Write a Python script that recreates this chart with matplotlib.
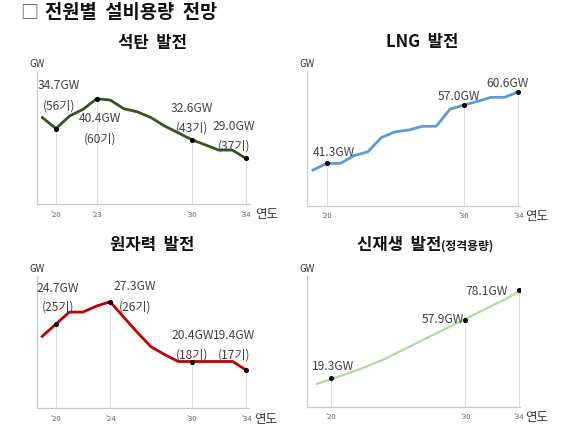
import numpy as np
import matplotlib
matplotlib.use("Agg")
import matplotlib.pyplot as plt

plt.rcParams['font.family'] = ['Noto Sans CJK KR', 'DejaVu Sans']

years = list(range(2019, 2035))

# 석탄 발전 (GW)
coal = [36.8, 34.7, 37.1, 38.4, 40.4, 40.15, 38.5, 37.9, 36.8, 35.2, 33.9, 32.6, 31.6, 30.6, 30.6, 29.0]
coal_marks = [2020, 2023, 2030, 2034]
coal_gw = ["34.7GW", "40.4GW", "32.6GW", "29.0GW"]
coal_units = ["(56기)", "(60기)", "(43기)", "(37기)"]
coal_ticks = ["'20", "'23", "'30", "'34"]

# LNG 발전 (GW)
lng = [39.5, 41.3, 41.3, 43.4, 44.4, 48.3, 49.8, 50.3, 51.3, 51.3, 55.9, 57.0, 58.0, 59.1, 59.1, 60.6]
lng_marks = [2020, 2030, 2034]
lng_gw = ["41.3GW", "57.0GW", "60.6GW"]
lng_ticks = ["'20", "'30", "'34"]

# 원자력 발전 (GW)
nuke = [23.3, 24.7, 26.1, 26.1, 26.8, 27.3, 25.5, 23.75, 22.1, 21.2, 20.4, 20.4, 20.4, 20.4, 20.4, 19.4]
nuke_marks = [2020, 2024, 2030, 2034]
nuke_gw = ["24.7GW", "27.3GW", "20.4GW", "19.4GW"]
nuke_units = ["(25기)", "(26기)", "(18기)", "(17기)"]
nuke_ticks = ["'20", "'24", "'30", "'34"]

# 신재생 발전 (정격용량, GW)
renew = [15.5, 18.4, 21.5, 24.6, 28.2, 31.9, 36.4, 40.8, 45.3, 49.7, 54.1, 58.6, 63.0, 67.5, 71.9, 76.8]
renew_marks = [2020, 2030, 2034]
renew_vals = [19.3, 57.9, 78.1]
renew_gw = ["19.3GW", "57.9GW", "78.1GW"]
renew_ticks = ["'20", "'30", "'34"]

W, H = 570, 435
fig = plt.figure(figsize=(W / 100, H / 100), dpi=100)


def px_axes(x0, x1, ytop, ybot):
    return fig.add_axes([x0 / W, 1 - ybot / H, (x1 - x0) / W, (ybot - ytop) / H])


def base(ax, xlim, ylim, marks, ticks, color, xs, ys, mark_vals, lw=2.0):
    ax.set_xlim(*xlim)
    ax.set_ylim(*ylim)
    for s in ["top", "right"]:
        ax.spines[s].set_visible(False)
    for s in ["left", "bottom"]:
        ax.spines[s].set_color("#c8c8c8")
        ax.spines[s].set_linewidth(0.9)
    ax.set_yticks([])
    ax.set_xticks(marks, ticks)
    ax.tick_params(axis="x", length=0, pad=4, labelsize=5.5, labelcolor="#666666")
    ax.vlines(marks, ylim[0], mark_vals, color="#dcdcdc", lw=0.8, zorder=1)
    ax.plot(xs, ys, color=color, lw=lw, zorder=2, solid_joinstyle="round")
    ax.scatter(marks, mark_vals, s=7, color="black", zorder=3)
    ax.text(0, 1.02, "GW", transform=ax.transAxes, ha="center", va="bottom",
            fontsize=7, color="#333333")
    ax.annotate("연도", xy=(1, 0), xycoords="axes fraction", xytext=(4, -7),
                textcoords="offset points", ha="left", va="center",
                fontsize=9, color="#333333")


def title(x, y, text, size=12, ha="center"):
    fig.text(x / W, 1 - y / H, text, fontsize=size, fontweight="bold",
             ha=ha, va="center", color="#111111")


def label(ax, x, y, text, dx, dy):
    ax.annotate(text, xy=(x, y), xytext=(dx * 0.72, dy * 0.72),
                textcoords="offset points", ha="center", va="center",
                fontsize=8.7, color="#404040")


fig.text(20 / W, 1 - 12 / H, "□", fontsize=13, ha="left", va="center", color="#444444")
title(45, 12, "전원별  설비용량  전망", size=13.5, ha="left")

# 석탄
ax1 = px_axes(37, 250, 72, 205)
coal_pts = [coal[years.index(y)] for y in coal_marks]
base(ax1, (2018.6, 2034.3), (20.3, 45.7), coal_marks, coal_ticks,
     "#3b5323", years, coal, coal_pts)
title(152.5, 43, "석탄  발전")
for (x, v, g, u, dx, dy1, dy2) in zip(coal_marks, coal_pts, coal_gw, coal_units,
                                      [3, 3.5, 0.5, -12], [44, -19, 32, 33], [24, -39, 13, 13]):
    label(ax1, x, v, g, dx, dy1)
    label(ax1, x, v, u, dx, dy2)

# LNG
ax2 = px_axes(306.7, 520, 72, 206.7)
lng_pts = [lng[years.index(y)] for y in lng_marks]
base(ax2, (2018.54, 2034.12), (29.9, 66.2), lng_marks, lng_ticks,
     "#5b9bd5", years, lng, lng_pts)
title(421.7, 42, "LNG  발전")
for (x, v, g, dx, dy) in zip(lng_marks, lng_pts, lng_gw, [7.3, -4.3, -11], [11.6, 9.3, 9.4]):
    label(ax2, x, v, g, dx, dy)

# 원자력
ax3 = px_axes(36.7, 249, 276.7, 409.3)
nuke_pts = [nuke[years.index(y)] for y in nuke_marks]
base(ax3, (2018.6, 2034.2), (15.0, 30.3), nuke_marks, nuke_ticks,
     "#c00000", years, nuke, nuke_pts)
title(152.5, 245, "원자력  발전")
for (x, v, g, u, dx, dy1, dy2) in zip(nuke_marks, nuke_pts, nuke_gw, nuke_units,
                                      [2, 25, 0.5, -12], [37, 16, 27, 36], [18, -4.6, 7.3, 16]):
    label(ax3, x, v, g, dx, dy1)
    label(ax3, x, v, u, dx, dy2)

# 신재생
ax4 = px_axes(307.3, 520, 276.7, 407.7)
base(ax4, (2018.26, 2034.07), (0.2, 87.4), renew_marks, renew_ticks,
     "#b5d89c", years, renew, renew_vals, lw=1.6)
title(441, 245, "신재생  발전", ha="right")
title(441, 246.5, "(정격용량)", size=8.5, ha="left")
for (x, v, g, dx, dy) in zip(renew_marks, renew_vals, renew_gw, [2.6, -22, -32], [12.3, 2, -1]):
    label(ax4, x, v, g, dx, dy)

fig.savefig("out.png", dpi=100, facecolor="white")
